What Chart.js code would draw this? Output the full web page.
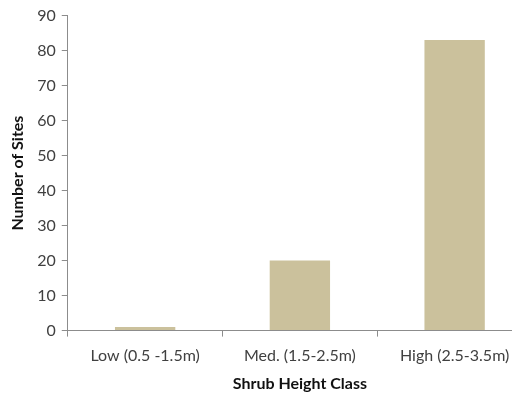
<!DOCTYPE html>
<html>
<head>
<meta charset="utf-8">
<script src="https://cdn.jsdelivr.net/npm/chart.js@4/dist/chart.umd.min.js"></script>
<style>
  html, body { margin: 0; padding: 0; background: #fff; overflow: hidden; }
  #wrap { width: 540px; height: 393px; position: relative; }
</style>
</head>
<body>
<div id="wrap"><canvas id="c"></canvas></div>
<script>
const categories = ['Low (0.5 -1.5m)', 'Med. (1.5-2.5m)', 'High (2.5-3.5m)'];
const siteCounts = [1, 20, 83];
const yTicks = [0, 10, 20, 30, 40, 50, 60, 70, 80, 90];

const axisGray = '#8c8c8c';
const textColor = '#404040';

new Chart(document.getElementById('c'), {
  type: 'bar',
  data: {
    labels: categories,
    datasets: [{
      data: siteCounts,
      backgroundColor: '#cbc19c',
      borderWidth: 0,
      barPercentage: 0.39,
      categoryPercentage: 1.0
    }]
  },
  options: {
    responsive: true,
    maintainAspectRatio: false,
    animation: false,
    layout: { padding: { top: 12, right: 8, left: 8, bottom: 0 } },
    plugins: { legend: { display: false }, tooltip: { enabled: false } },
    scales: {
      x: {
        offset: true,
        grid: { display: true, drawOnChartArea: false, offset: true, tickLength: 6, color: axisGray },
        border: { color: axisGray },
        ticks: { color: textColor, font: { family: 'Lato', size: 16 }, padding: 10, maxRotation: 0 },
        title: { display: true, text: 'Shrub Height Class', color: '#111', font: { family: 'Lato', size: 16, weight: 'bold' }, padding: { top: -2, bottom: 0 } }
      },
      y: {
        min: 0, max: 90,
        afterBuildTicks: (axis) => { axis.ticks = yTicks.map(v => ({ value: v })); },
        grid: { display: true, drawOnChartArea: false, tickLength: 6, color: axisGray },
        border: { color: axisGray },
        ticks: { color: textColor, font: { family: 'Lato', size: 16 }, padding: 6 },
        title: { display: true, text: 'Number of Sites', color: '#111', font: { family: 'Lato', size: 16, weight: 'bold' }, padding: { top: 0, bottom: 4 } }
      }
    }
  }
});
</script>
</body>
</html>
